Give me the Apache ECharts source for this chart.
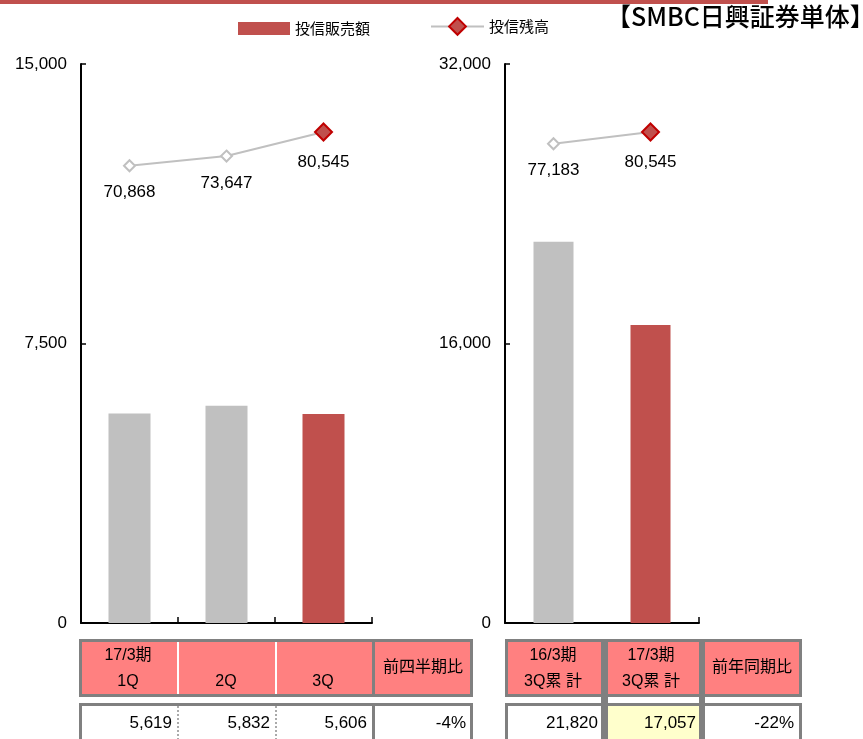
<!DOCTYPE html>
<html><head><meta charset="utf-8">
<script src="https://cdn.jsdelivr.net/npm/echarts@6/dist/echarts.min.js"></script>
<style>html,body{margin:0;padding:0;background:#fff}#c{width:863px;height:739px}</style>
</head><body><div id="c"></div>
<script>
// ---- data ----
var quarters = ['1Q', '2Q', '3Q'];
var quarterSales = [5619, 5832, 5606];
var quarterBalance = [70868, 73647, 80545];
var cumCats = ['16/3期 3Q累計', '17/3期 3Q累計'];
var cumSales = [21820, 17057];
var cumBalance = [77183, 80545];
var qoqText = '-4%';
var yoyText = '-22%';
var leftTicks = [0, 7500, 15000];
var rightTicks = [0, 16000, 32000];
var seriesNames = ['投信販売額', '投信残高'];
var titleText = '【SMBC日興証券単体】';
var leftHeader = [['17/3期', '1Q'], ['', '2Q'], ['', '3Q'], ['前四半期比']];
var rightHeader = [['16/3期', '3Q累 計'], ['17/3期', '3Q累 計'], ['前年同期比']];

// ---- styles ----
var FONT = '"Liberation Sans", Arial, "Noto Sans CJK JP", sans-serif';
var RED = '#C0504D', GRAY = '#C0C0C0', PINK = '#FF8080', BORDER = '#808080';
function fmt(v) { return v.toLocaleString('en-US'); }

var chart = echarts.init(document.getElementById('c'));

function barData(vals) {
  return vals.map(function (v, i) {
    return { value: v, itemStyle: { color: i === vals.length - 1 ? RED : GRAY } };
  });
}
function lineData(vals) {
  return vals.map(function (v, i) {
    var last = i === vals.length - 1;
    return {
      value: v,
      symbolSize: last ? 17 : 11,
      itemStyle: last ? { color: RED, borderColor: '#C00000', borderWidth: 2 }
                      : { color: '#fff', borderColor: GRAY, borderWidth: 2 }
    };
  });
}
function yAxis(grid, ticks) {
  return {
    gridIndex: grid, type: 'value', min: ticks[0], max: ticks[ticks.length - 1],
    interval: ticks[1] - ticks[0],
    axisLine: { show: true, lineStyle: { color: '#000', width: 2 } },
    axisTick: { show: true, inside: true, length: 5, lineStyle: { color: '#000', width: 1.5 } },
    axisLabel: { color: '#000', fontSize: 17, fontFamily: FONT, margin: 14, formatter: fmt },
    splitLine: { show: false }
  };
}
function yAxis2(grid) {
  return { gridIndex: grid, type: 'value', min: -60000, max: 100000, show: false, splitLine: { show: false } };
}
function xAxis(grid, cats) {
  return {
    gridIndex: grid, type: 'category', data: cats, boundaryGap: true,
    axisLine: { show: true, lineStyle: { color: '#000', width: 2 } },
    axisTick: { show: true, inside: true, length: 6, lineStyle: { color: '#000', width: 1.5 } },
    axisLabel: { show: false }
  };
}
var lineLabel = { show: true, position: 'bottom', distance: 12, color: '#000', fontSize: 17, fontFamily: FONT, formatter: function (p) { return fmt(p.value); } };

// ---- tables (graphic) ----
var g = [];
g.push({ type: 'rect', shape: { x: 0, y: 0, width: 768, height: 4 }, style: { fill: RED } });
g.push({ type: 'text', left: 606, top: 4, style: { text: titleText, font: '500 25px "Noto Sans CJK JP", sans-serif', fill: '#000' } });

function txt(t, x, y, align, size) {
  g.push({ type: 'text', style: { text: t, x: x, y: y, textAlign: align, textVerticalAlign: 'middle', font: (size || 16) + 'px ' + FONT, fill: '#000' } });
}
// left table header
g.push({ type: 'rect', shape: { x: 79, y: 639, width: 394, height: 58 }, style: { fill: BORDER } });
g.push({ type: 'rect', shape: { x: 82, y: 642, width: 388, height: 52 }, style: { fill: PINK } });
g.push({ type: 'rect', shape: { x: 177, y: 642, width: 2, height: 52 }, style: { fill: '#fff' } });
g.push({ type: 'rect', shape: { x: 275, y: 642, width: 2, height: 52 }, style: { fill: '#fff' } });
g.push({ type: 'rect', shape: { x: 372, y: 642, width: 3, height: 52 }, style: { fill: BORDER } });
var lcx = [128, 226, 323, 423];
leftHeader.forEach(function (h, i) {
  if (h.length === 1) txt(h[0], lcx[i], 668, 'center', 16);
  else { if (h[0]) txt(h[0], lcx[i], 656, 'center', 16); txt(h[1], lcx[i], 682, 'center', 16); }
});
// left table data
g.push({ type: 'rect', shape: { x: 79, y: 703, width: 394, height: 50 }, style: { fill: BORDER } });
g.push({ type: 'rect', shape: { x: 82, y: 706, width: 388, height: 50 }, style: { fill: '#fff' } });
[178, 276].forEach(function (x) {
  g.push({ type: 'line', shape: { x1: x, y1: 706, x2: x, y2: 739 }, style: { stroke: '#aaa', lineWidth: 2, lineDash: [2, 2] } });
});
g.push({ type: 'rect', shape: { x: 372, y: 706, width: 3, height: 40 }, style: { fill: BORDER } });
var lrx = [172, 270, 367, 466];
quarterSales.forEach(function (v, i) { txt(fmt(v), lrx[i], 723, 'right', 17); });
txt(qoqText, lrx[3], 723, 'right', 17);

// right table header
g.push({ type: 'rect', shape: { x: 505, y: 639, width: 297, height: 58 }, style: { fill: BORDER } });
var rc = [[508, 93], [608, 91], [705, 94]];
rc.forEach(function (c) { g.push({ type: 'rect', shape: { x: c[0], y: 642, width: c[1], height: 52 }, style: { fill: PINK } }); });
var rcx = [553, 651, 752];
rightHeader.forEach(function (h, i) {
  if (h.length === 1) txt(h[0], rcx[i], 668, 'center', 16);
  else { txt(h[0], rcx[i], 656, 'center', 16); txt(h[1], rcx[i], 682, 'center', 16); }
});
// connectors of highlighted column
g.push({ type: 'rect', shape: { x: 601, y: 697, width: 7, height: 6 }, style: { fill: BORDER } });
g.push({ type: 'rect', shape: { x: 699, y: 697, width: 6, height: 6 }, style: { fill: BORDER } });
// right table data
g.push({ type: 'rect', shape: { x: 505, y: 703, width: 297, height: 50 }, style: { fill: BORDER } });
g.push({ type: 'rect', shape: { x: 508, y: 706, width: 93, height: 50 }, style: { fill: '#fff' } });
g.push({ type: 'rect', shape: { x: 608, y: 706, width: 91, height: 50 }, style: { fill: '#FFFFCC' } });
g.push({ type: 'rect', shape: { x: 705, y: 706, width: 94, height: 50 }, style: { fill: '#fff' } });
var rrx = [598, 696, 794];
cumSales.forEach(function (v, i) { txt(fmt(v), rrx[i], 723, 'right', 17); });
txt(yoyText, rrx[2], 723, 'right', 17);

var option = {
  backgroundColor: '#fff',
  animation: false,
  textStyle: { fontFamily: FONT },
  legend: [
    { data: [{ name: seriesNames[0], icon: 'rect' }], left: 238, top: 21, padding: 0, itemWidth: 52, itemHeight: 13, itemGap: 6,
      textStyle: { fontSize: 15, color: '#000', fontFamily: '"Noto Sans CJK JP", sans-serif' } },
    { data: [seriesNames[1]], left: 430, top: 17, padding: 0, itemWidth: 53, itemHeight: 21, itemGap: 6,
      textStyle: { fontSize: 15, color: '#000', fontFamily: '"Noto Sans CJK JP", sans-serif' } }
  ],
  grid: [
    { left: 81, top: 64, width: 291, height: 559 },
    { left: 505, top: 64, width: 194, height: 559 }
  ],
  xAxis: [xAxis(0, quarters), xAxis(1, cumCats)],
  yAxis: [yAxis(0, leftTicks), yAxis2(0), yAxis(1, rightTicks), yAxis2(1)],
  series: [
    { name: seriesNames[0], type: 'bar', xAxisIndex: 0, yAxisIndex: 0, barWidth: 42, data: barData(quarterSales), itemStyle: { color: RED } },
    { name: seriesNames[0], type: 'bar', xAxisIndex: 1, yAxisIndex: 2, barWidth: 40, data: barData(cumSales), itemStyle: { color: RED } },
    { name: seriesNames[1], type: 'line', xAxisIndex: 0, yAxisIndex: 1, symbol: 'diamond', data: lineData(quarterBalance),
      lineStyle: { color: GRAY, width: 2 }, itemStyle: { color: RED, borderColor: '#C00000', borderWidth: 2 }, label: lineLabel, z: 5 },
    { name: seriesNames[1], type: 'line', xAxisIndex: 1, yAxisIndex: 3, symbol: 'diamond', data: lineData(cumBalance),
      lineStyle: { color: GRAY, width: 2 }, itemStyle: { color: RED, borderColor: '#C00000', borderWidth: 2 }, label: lineLabel, z: 5 }
  ],
  graphic: g
};
chart.setOption(option);
</script></body></html>
